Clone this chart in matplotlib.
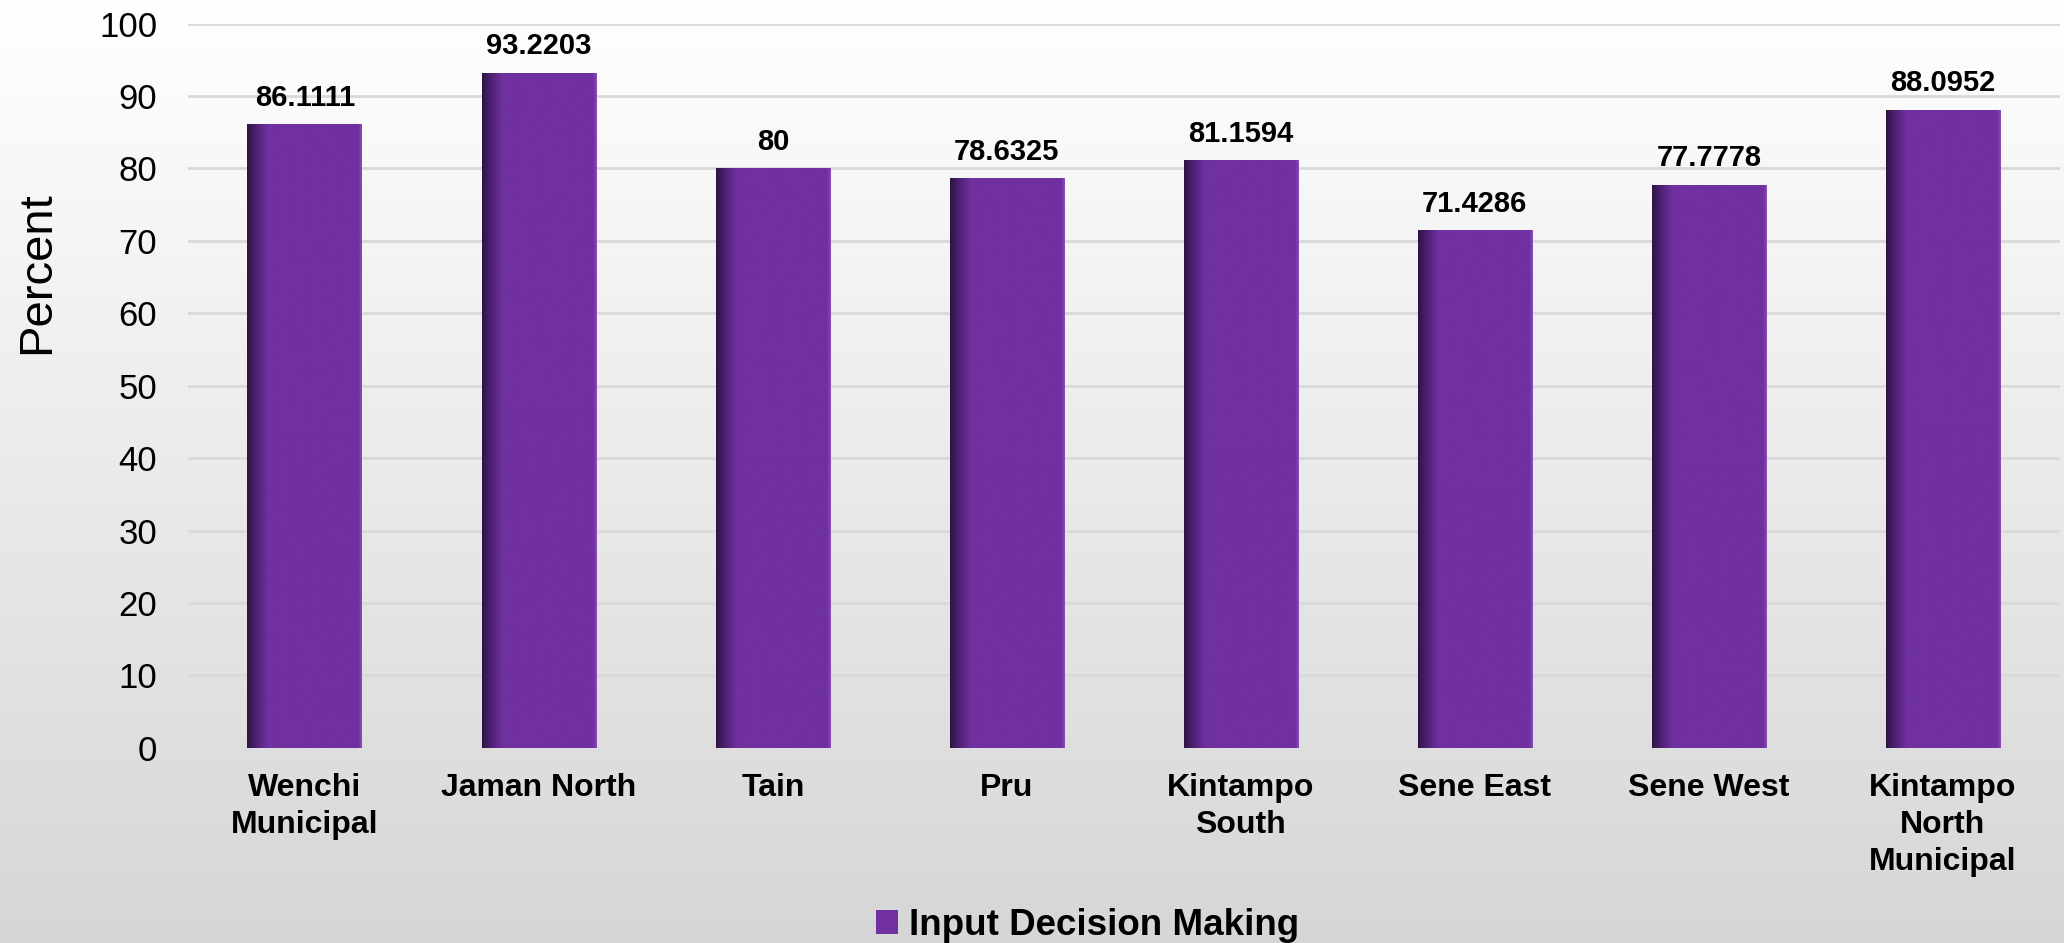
import numpy as np
import matplotlib
matplotlib.use('Agg')
import matplotlib.pyplot as plt
from matplotlib.colors import LinearSegmentedColormap

plt.rcParams['font.family'] = ['Liberation Sans', 'DejaVu Sans']

districts = ['Wenchi\nMunicipal', 'Jaman North', 'Tain', 'Pru', 'Kintampo\nSouth',
             'Sene East', 'Sene West', 'Kintampo\nNorth\nMunicipal']
values = [86.1111, 93.2203, 80, 78.6325, 81.1594, 71.4286, 77.7778, 88.0952]
value_labels = ['86.1111', '93.2203', '80', '78.6325', '81.1594', '71.4286', '77.7778', '88.0952']
series_name = 'Input Decision Making'

fig = plt.figure(figsize=(20.64, 9.43), dpi=100)

# background gradient, white at top to light grey at bottom
bg = fig.add_axes([0, 0, 1, 1], zorder=-10)
grad = np.linspace(0, 1, 256).reshape(-1, 1)
bg_cmap = LinearSegmentedColormap.from_list('bg', ['#ffffff', '#d6d6d6'])
bg.imshow(grad, aspect='auto', cmap=bg_cmap, extent=[0, 1, 0, 1], origin='upper')
bg.axis('off')

ax = fig.add_axes([0.091, 0.207, 0.907, 0.768])
ax.patch.set_alpha(0)

x = np.arange(len(districts))
width = 0.49
bars = ax.bar(x, values, width=width, color='#7030a0', zorder=3, label=series_name)

# dark left-edge shading on each bar
bar_cmap = LinearSegmentedColormap.from_list(
    'bar', [(0, '#2e1442'), (0.08, '#4f2175'), (0.18, '#7030a0'), (0.97, '#7030a0'), (1, '#8a4cb8')])
hgrad = np.linspace(0, 1, 256).reshape(1, -1)
for b in bars:
    x0 = b.get_x()
    im = ax.imshow(hgrad, aspect='auto', cmap=bar_cmap,
                   extent=[x0, x0 + b.get_width(), 0, b.get_height()], zorder=4)
    im.set_clip_path(b)

for xi, v, lab in zip(x, values, value_labels):
    ax.annotate(lab, (xi, v), xytext=(0, 9), textcoords='offset points',
                ha='center', va='bottom', fontsize=21, fontweight='bold', zorder=5)

ax.set_xlim(-0.5, len(districts) - 0.5)
ax.set_ylim(0, 100)
ax.set_yticks(range(0, 101, 10))
ax.set_xticks(x)
ax.set_xticklabels(districts, fontsize=23, fontweight='bold', linespacing=1.3)
ax.tick_params(axis='y', labelsize=25, length=0, pad=22)
ax.tick_params(axis='x', length=0, pad=18)
ax.grid(axis='y', color='#d9d9d9', linewidth=2, zorder=0)
for s in ax.spines.values():
    s.set_visible(False)
ax.set_ylabel('Percent', fontsize=34)
ax.yaxis.set_label_coords(-0.069, 0.656)

fig.legend(handles=[bars], labels=[series_name], loc='lower center',
           bbox_to_anchor=(0.527, -0.035), frameon=False, handlelength=0.6,
           handleheight=0.6, handletextpad=0.3,
           prop={'size': 26.5, 'weight': 'bold'})

fig.savefig('out.png', dpi=100)
